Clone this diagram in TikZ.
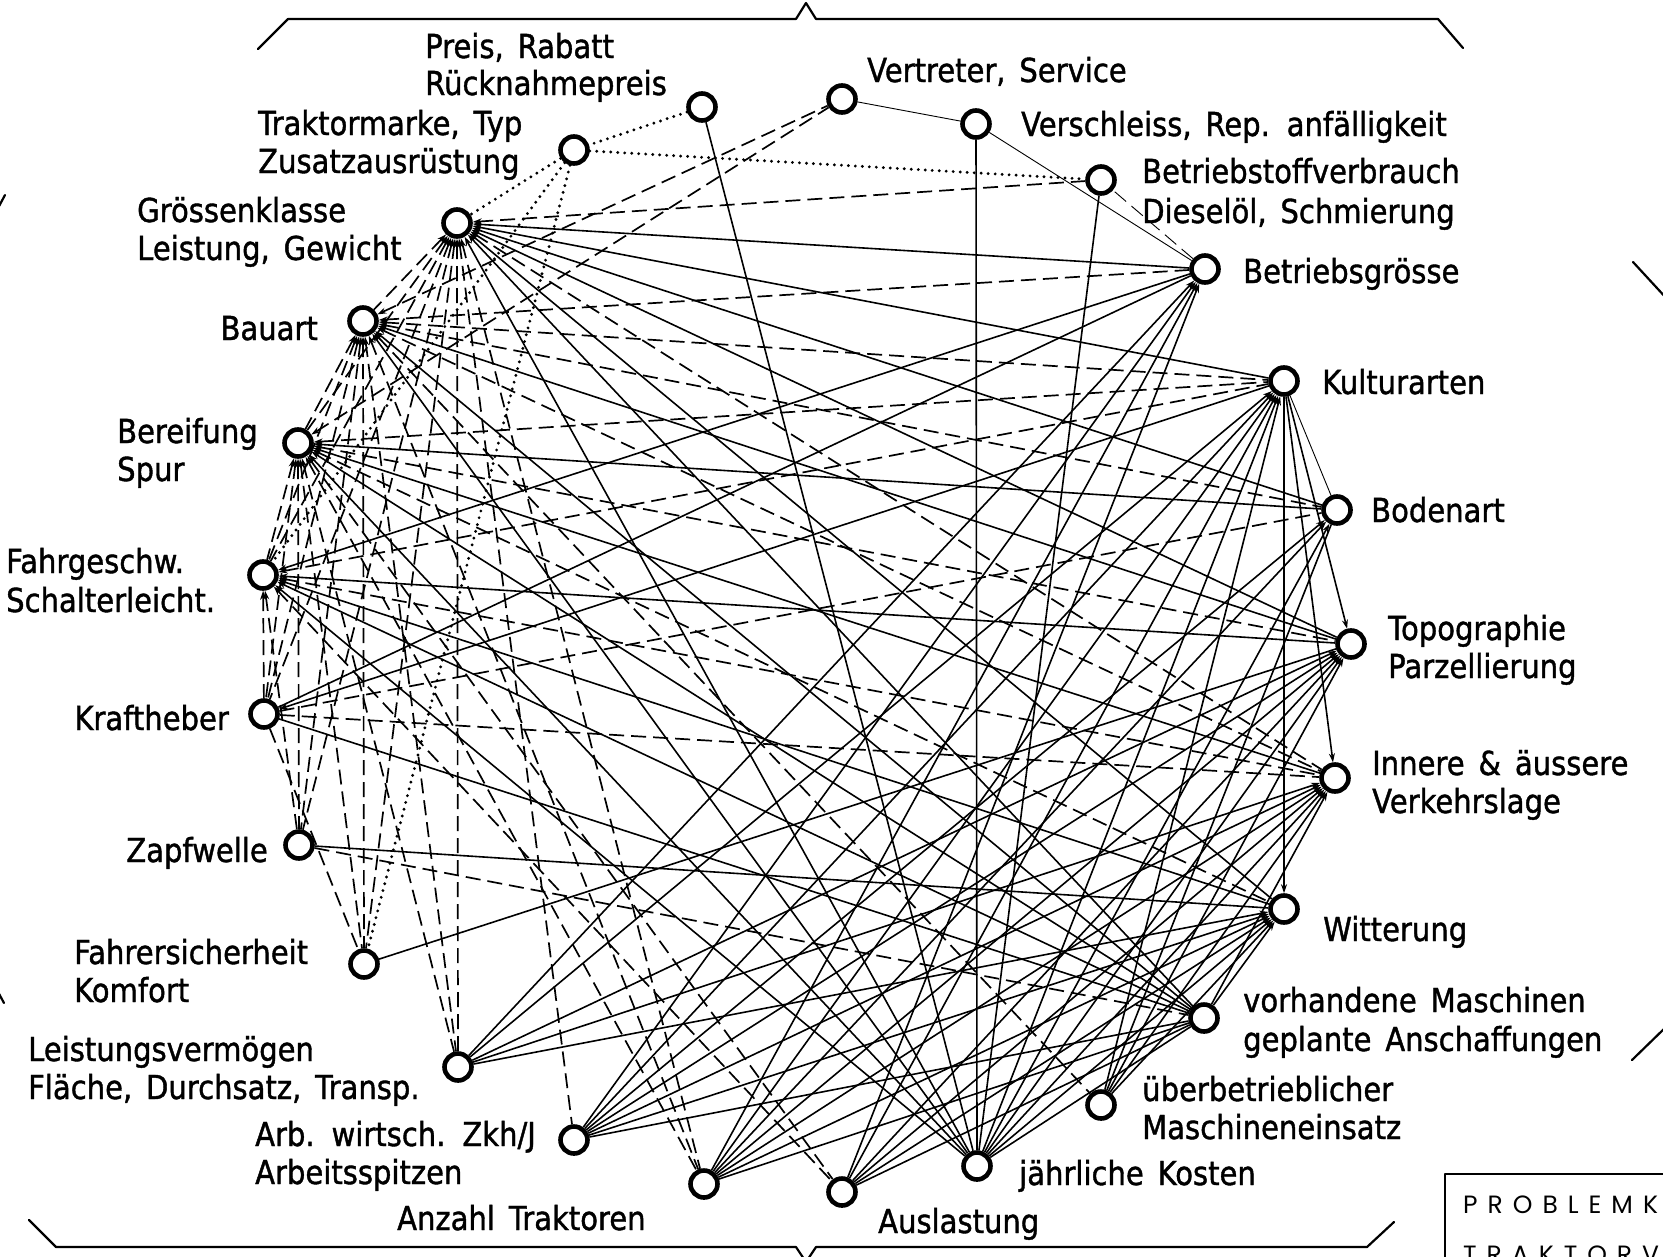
\documentclass[tikz,border=0pt]{standalone}
\usepackage{fontspec}
\setmainfont{DejaVu Sans}[FakeStretch=0.88,FakeBold=1.2,WordSpace=1.5]
\newfontfamily\boxfont{Poppins}[LetterSpace=40]
\usetikzlibrary{arrows.meta}
\begin{document}
\begin{tikzpicture}[x=1pt,y=-1pt,>={Stealth[length=9pt,width=6pt]},
  knot/.style={circle,draw,fill=white,line width=4.6pt,minimum size=27pt,inner sep=0pt},
  lab/.style={font=\fontsize{33}{39}\selectfont,inner sep=0pt},
  boxlab/.style={font=\boxfont\fontsize{25}{30}\selectfont,inner sep=0pt},
  sl/.style={draw,line width=1.6pt},
  dl/.style={draw,line width=1.7pt,dash pattern=on 15pt off 7pt},
  dt/.style={draw,line width=3.2pt,line cap=round,dash pattern=on 0pt off 7pt},
  hair/.style={line width=0.9pt},
  frame/.style={line width=2.2pt,line cap=round,line join=round}]

\useasboundingbox (0,0) rectangle (1663,1256);
\clip (0,0) rectangle (1663,1256);

% points
\node[knot] (pr) at (702,107) {};
\node[knot] (tm) at (574,150) {};
\node[knot] (gk) at (457,223) {};
\node[knot] (ba) at (363,321) {};
\node[knot] (bf) at (298,443) {};
\node[knot] (fg) at (263,575) {};
\node[knot] (kh) at (264,714) {};
\node[knot] (zw) at (299,845) {};
\node[knot] (fs) at (364,964) {};
\node[knot] (lv) at (458,1067) {};
\node[knot] (aw) at (574,1140) {};
\node[knot] (at) at (704,1184) {};
\node[knot] (al) at (842,1192) {};
\node[knot] (jk) at (977,1166) {};
\node[knot] (ue) at (1101,1105) {};
\node[knot] (vm) at (1204,1018) {};
\node[knot] (wt) at (1284,909) {};
\node[knot] (iv) at (1335,778) {};
\node[knot] (tp) at (1351,644) {};
\node[knot] (bo) at (1337,510) {};
\node[knot] (ku) at (1284,381) {};
\node[knot] (bg) at (1205,269) {};
\node[knot] (bv) at (1101,180) {};
\node[knot] (vs) at (976,124) {};
\node[knot] (vt) at (842,99) {};

% labels
\node[lab,anchor=base west] (prT) at (425,58) {Preis, Rabatt};
\node[lab,anchor=base west] (prB) at (425,95) {Rücknahmepreis};
\node[lab,anchor=base west] (tmT) at (258,135) {Traktormarke, Typ};
\node[lab,anchor=base west] (tmB) at (258,173) {Zusatzausrüstung};
\node[lab,anchor=base west] (gkT) at (137,222) {Grössenklasse};
\node[lab,anchor=base west] (gkB) at (137,260) {Leistung, Gewicht};
\node[lab,anchor=base east] (baT) at (318,340) {Bauart};
\node[lab,anchor=base west] (bfT) at (117,443) {Bereifung};
\node[lab,anchor=base west] (bfB) at (117,481) {Spur};
\node[lab,anchor=base west] (fgT) at (6,573) {Fahrgeschw.};
\node[lab,anchor=base west] (fgB) at (6,612) {Schalterleicht.};
\node[lab,anchor=base east] (khT) at (229,730) {Kraftheber};
\node[lab,anchor=base east] (zwT) at (268,862) {Zapfwelle};
\node[lab,anchor=base west] (fsT) at (74,964) {Fahrersicherheit};
\node[lab,anchor=base west] (fsB) at (74,1002) {Komfort};
\node[lab,anchor=base west] (lvT) at (28,1061) {Leistungsvermögen};
\node[lab,anchor=base west] (lvB) at (28,1099) {Fläche, Durchsatz, Transp.};
\node[lab,anchor=base west] (awT) at (255,1146) {Arb. wirtsch. Zkh/J};
\node[lab,anchor=base west] (awB) at (255,1184) {Arbeitsspitzen};
\node[lab,anchor=base west] (atT) at (397,1230) {Anzahl Traktoren};
\node[lab,anchor=base west] (alT) at (878,1233) {Auslastung};
\node[lab,anchor=base west] (jkT) at (1019,1185) {jährliche Kosten};
\node[lab,anchor=base west] (ueT) at (1142,1101) {überbetrieblicher};
\node[lab,anchor=base west] (ueB) at (1142,1139) {Maschineneinsatz};
\node[lab,anchor=base west] (vmT) at (1243,1012) {vorhandene Maschinen};
\node[lab,anchor=base west] (vmB) at (1243,1051) {geplante Anschaffungen};
\node[lab,anchor=base west] (wtT) at (1323,941) {Witterung};
\node[lab,anchor=base west] (ivT) at (1372,775) {Innere \& äussere};
\node[lab,anchor=base west] (ivB) at (1372,813) {Verkehrslage};
\node[lab,anchor=base west] (tpT) at (1388,640) {Topographie};
\node[lab,anchor=base west] (tpB) at (1388,678) {Parzellierung};
\node[lab,anchor=base west] (boT) at (1371,522) {Bodenart};
\node[lab,anchor=base west] (kuT) at (1322,394) {Kulturarten};
\node[lab,anchor=base west] (bgT) at (1243,283) {Betriebsgrösse};
\node[lab,anchor=base west] (bvT) at (1142,183) {Betriebstoffverbrauch};
\node[lab,anchor=base west] (bvB) at (1142,223) {Dieselöl, Schmierung};
\node[lab,anchor=base west] (vsT) at (1021,136) {Verschleiss, Rep. anfälligkeit};
\node[lab,anchor=base west] (vtT) at (867,82) {Vertreter, Service};

% frame and title box
\draw[frame] (258,49) -- (288,19) -- (796,19) -- (806,3) -- (816,19) -- (1438,19) -- (1463,48);
\draw[frame] (1633,262) -- (1668,300);
\draw[frame] (-3,210) -- (5,195);
\draw[frame] (-3,990) -- (4,1003);
\draw[frame] (29,1220) -- (56,1247) -- (796,1247) -- (806,1262) -- (816,1247) -- (1367,1247) -- (1394,1222);
\draw[frame] (1632,1060) -- (1668,1025);
\draw[frame] (1445,1300) -- (1445,1174) -- (1700,1174);
\node[boxlab,anchor=base west] (boxT) at (1463,1213) {PROBLEMK};
\node[boxlab,anchor=base west] (boxB) at (1463,1263) {TRAKTORV};

% dotted links
\path[dt]
  (pr) edge (tm)
  (tm) edge (gk)
  (tm) edge (bv)
  (tm) edge (fg)
  (tm) edge (fs);

% top links
\path[sl]
  (pr) edge (jk)
  (vt) edge[hair] (vs)
  (vs) edge (jk)
  (vs) edge[hair] (bg)
  (bv) edge (jk);
\path[dl]
  (ba) edge[<-] (vt)
  (bf) edge[<-] (vt)
  (gk) edge[<-] (bv)
  (bg) edge[hair] (bv);

% tractor side among themselves
\path[dl]
  (gk) edge[<-] (ba)
  (gk) edge[<-] (bf)
  (gk) edge[<-] (fg)
  (gk) edge[<-] (kh)
  (gk) edge[<-] (zw)
  (gk) edge[<-] (fs)
  (gk) edge[<-] (lv)
  (gk) edge[<-] (aw)
  (gk) edge[<-] (at)
  (ba) edge[<-] (bf)
  (ba) edge[<-] (fg)
  (ba) edge[<-] (kh)
  (ba) edge[<-] (zw)
  (ba) edge[<-] (fs)
  (ba) edge[<-] (lv)
  (ba) edge[<-] (at)
  (ba) edge[<-] (ue)
  (bf) edge[<-] (fg)
  (bf) edge[<-] (kh)
  (bf) edge[<-] (zw)
  (bf) edge[<-] (fs)
  (bf) edge[<-] (lv)
  (bf) edge[<-] (at)
  (bf) edge[<-] (al)
  (fg) edge[<-] (kh)
  (fg) edge[<-] (zw)
  (fg) edge[<-] (al)
  (kh) edge (fs);

% farm side to tractor side
\path[sl]
  (gk) edge[<-] (bg)
  (gk) edge[<-] (ku)
  (gk) edge[<-] (bo)
  (gk) edge[<-] (tp)
  (gk) edge[<-] (wt)
  (gk) edge[<-] (vm)
  (gk) edge[<-] (jk)
  (ba) edge[<-] (tp)
  (ba) edge[<-] (vm)
  (ba) edge[<-] (jk)
  (bf) edge[<-] (bo)
  (bf) edge[<-] (iv)
  (bf) edge[<-] (vm)
  (bf) edge[<-] (jk)
  (fg) edge[<-] (bg)
  (fg) edge[<-] (tp)
  (fg) edge[<-] (vm)
  (fg) edge[<-] (jk)
  (fg) edge[<-] (wt)
  (kh) edge (bg)
  (kh) edge[<-] (ku)
  (kh) edge (vm)
  (zw) edge (wt)
  (fs) edge (tp);
\path[dl]
  (gk) edge[<-] (iv)
  (ba) edge[<-] (bg)
  (ba) edge[<-] (ku)
  (ba) edge[<-] (bo)
  (ba) edge[<-] (iv)
  (bf) edge[<-] (ku)
  (bf) edge[<-] (tp)
  (bf) edge[<-] (wt)
  (fg) edge[<-] (ku)
  (fg) edge[<-] (iv)
  (kh) edge (bo)
  (kh) edge (iv)
  (zw) edge (vm);

% use and costs to farm side
\path[sl]
  (bg) edge[<-] (lv)
  (bg) edge[<-] (aw)
  (bg) edge[<-] (at)
  (bg) edge[<-] (al)
  (ku) edge[<-] (lv)
  (ku) edge[<-] (aw)
  (ku) edge[<-] (at)
  (ku) edge[<-] (al)
  (ku) edge[<-] (jk)
  (ku) edge[<-] (ue)
  (bo) edge[<-] (aw)
  (bo) edge[<-] (at)
  (bo) edge[<-] (jk)
  (tp) edge[<-] (lv)
  (tp) edge[<-] (aw)
  (tp) edge[<-] (at)
  (tp) edge[<-] (al)
  (tp) edge[<-] (jk)
  (tp) edge[<-] (ue)
  (iv) edge[<-] (lv)
  (iv) edge[<-] (aw)
  (iv) edge[<-] (at)
  (iv) edge[<-] (al)
  (iv) edge[<-] (jk)
  (iv) edge[<-] (ue)
  (wt) edge[<-] (lv)
  (wt) edge[<-] (aw)
  (wt) edge[<-] (at)
  (wt) edge[<-] (al)
  (wt) edge[<-] (jk)
  (wt) edge[<-] (ue)
  (vm) edge (aw)
  (vm) edge (at)
  (vm) edge (al)
  (vm) edge (jk);

% farm side among themselves
\path[sl]
  (tp) edge[<-] (ku)
  (iv) edge[<-] (ku)
  (wt) edge[<-] (ku)
  (bo) edge[hair] (ku)
  (bo) edge (ue)
  (wt) edge[<-] (vm)
  (iv) edge[<-] (vm);
\end{tikzpicture}
\end{document}
